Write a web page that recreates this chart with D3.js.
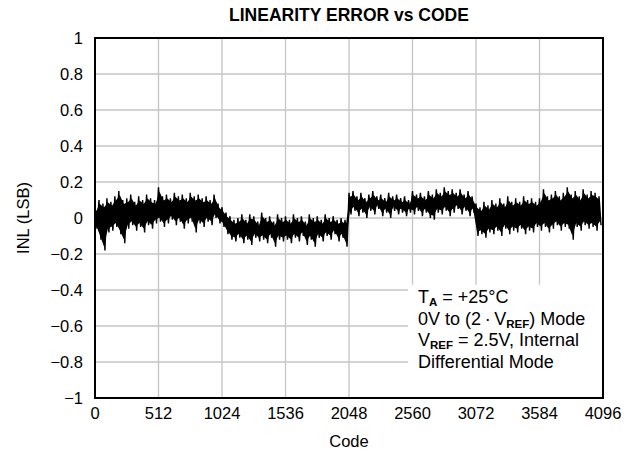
<!DOCTYPE html>
<html><head><meta charset="utf-8">
<script src="https://cdn.jsdelivr.net/npm/d3@7"></script>
<style>body{margin:0;background:#fff}svg{display:block}text{font-family:"Liberation Sans",Arial,sans-serif}</style>
</head><body>
<script>
const title = "LINEARITY ERROR vs CODE";
const xLabel = "Code";
const yLabel = "INL (LSB)";
const xTicks = [0,512,1024,1536,2048,2560,3072,3584,4096];
const yTicks = [-1,-0.8,-0.6,-0.4,-0.2,0,0.2,0.4,0.6,0.8,1];
const codeStep = 16;
// INL values (LSB) sampled every 16 codes, alternating peaks/troughs of the noise band
const inlSeg0 = [0.06,-0.06,0.10,-0.12,0.08,-0.18,0.11,-0.08,0.09,-0.07,0.12,-0.05,0.15,-0.09,0.10,-0.14,0.11,-0.06,0.13,-0.04,0.09,-0.07,0.12,-0.05,0.10,-0.08,0.13,-0.04,0.11,-0.06,0.10,-0.03];
const inlSeg1 = [0.17,-0.02,0.12,-0.05,0.13,-0.03,0.11,-0.01,0.14,-0.04,0.12,-0.02,0.13,-0.06,0.11,-0.03,0.14,-0.02,0.12,-0.08,0.13,-0.03,0.11,-0.05,0.12,-0.02,0.10,-0.04,0.13,0.00,0.08,-0.03];
const inlSeg2 = [0.06,-0.05,0.03,-0.09,0.01,-0.12,-0.01,-0.13,0.00,-0.11,0.02,-0.14,-0.01,-0.12,0.02,-0.15,0.01,-0.11,-0.02,-0.13,0.03,-0.12,0.00,-0.14,0.01,-0.11,-0.02,-0.16,0.02,-0.12,0.00,-0.13];
const inlSeg3 = [0.01,-0.12,-0.01,-0.14,0.02,-0.11,0.00,-0.13,0.01,-0.10,-0.02,-0.15,0.02,-0.12,0.00,-0.16,0.01,-0.11,-0.01,-0.13,0.02,-0.10,0.00,-0.12,0.01,-0.09,-0.01,-0.13,0.00,-0.11,-0.01,-0.16];
const inlSeg4 = [0.14,0.02,0.15,0.04,0.12,0.01,0.14,0.03,0.11,0.00,0.13,0.04,0.15,0.02,0.12,0.05,0.13,0.01,0.11,0.03,0.14,0.00,0.12,0.04,0.13,0.02,0.11,0.03,0.12,0.01,0.10,0.03];
const inlSeg5 = [0.15,0.02,0.13,0.04,0.14,0.01,0.12,0.03,0.15,0.00,0.13,-0.01,0.16,0.03,0.14,0.02,0.17,0.04,0.15,0.01,0.16,0.03,0.14,0.05,0.16,0.02,0.13,0.04,0.15,0.01,0.12,0.03];
const inlSeg6 = [0.08,-0.10,0.06,-0.09,0.09,-0.11,0.07,-0.08,0.10,-0.09,0.08,-0.07,0.11,-0.10,0.08,-0.06,0.12,-0.09,0.09,-0.07,0.11,-0.08,0.09,-0.06,0.12,-0.09,0.10,-0.07,0.11,-0.08,0.09,-0.05];
const inlSeg7 = [0.11,-0.07,0.16,-0.05,0.12,-0.08,0.13,-0.06,0.15,-0.04,0.12,-0.07,0.14,-0.05,0.17,-0.06,0.13,-0.12,0.15,-0.05,0.12,-0.07,0.16,-0.04,0.13,-0.06,0.15,-0.05,0.14,-0.07,0.12,-0.04];
const inlValues = [].concat(inlSeg0,inlSeg1,inlSeg2,inlSeg3,inlSeg4,inlSeg5,inlSeg6,inlSeg7);

const W = 634, H = 451;
const m = {left:95, right:31, top:38, bottom:53};
const svg = d3.select("body").append("svg").attr("width",W).attr("height",H);
const x = d3.scaleLinear().domain([0,4096]).range([m.left, W-m.right]);
const y = d3.scaleLinear().domain([-1,1]).range([H-m.bottom, m.top]);

// grid
svg.append("g").selectAll("line").data(xTicks.slice(1,-1)).join("line")
  .attr("x1",d=>x(d)).attr("x2",d=>x(d)).attr("y1",y(-1)).attr("y2",y(1))
  .attr("stroke","#c4c4c4").attr("stroke-width",1.3);
svg.append("g").selectAll("line").data(yTicks.slice(1,-1)).join("line")
  .attr("x1",x(0)).attr("x2",x(4096)).attr("y1",d=>y(d)).attr("y2",d=>y(d))
  .attr("stroke","#c4c4c4").attr("stroke-width",1.3);

// data: dense core of the noise band (peak/trough pairs) + trace
const data = inlValues.map((v,i)=>({c:i*codeStep, v}));
const pairs = d3.range(0, data.length, 2).map(i=>{
  const a = data[i], b = data[Math.min(i+1,data.length-1)];
  return {c:(a.c+b.c)/2, hi:Math.max(a.v,b.v), lo:Math.min(a.v,b.v)};
});
svg.append("path").datum(pairs)
  .attr("d", d3.area().x(d=>x(d.c)).y0(d=>y(d.lo)-4).y1(d=>y(d.hi)+4))
  .attr("fill","#000");
svg.append("path").datum(data)
  .attr("d", d3.line().x(d=>x(d.c)).y(d=>y(d.v)))
  .attr("fill","none").attr("stroke","#000").attr("stroke-width",1.4);

// annotation box
const bx = x(2525), byTop = y(-0.37);
svg.append("rect").attr("x",bx).attr("y",byTop).attr("width",x(4096)-bx).attr("height",y(-1)-byTop).attr("fill","#fff");

// frame
svg.append("rect").attr("x",x(0)).attr("y",y(1)).attr("width",x(4096)-x(0)).attr("height",y(-1)-y(1))
  .attr("fill","none").attr("stroke","#000").attr("stroke-width",2);

// axes labels
const fmt = d => (d<0 ? "\u2212" : "") + d3.format("")(Math.abs(d));
svg.append("g").selectAll("text").data(yTicks).join("text")
  .attr("x",m.left-12).attr("y",d=>y(d)+6).attr("text-anchor","end")
  .attr("font-size",16.5).text(fmt);
svg.append("g").selectAll("text").data(xTicks).join("text")
  .attr("x",d=>x(d)).attr("y",y(-1)+21).attr("text-anchor","middle")
  .attr("font-size",16.5).text(d=>d);
svg.append("text").attr("x",(x(0)+x(4096))/2).attr("y",447).attr("text-anchor","middle")
  .attr("font-size",16.5).text(xLabel);
svg.append("text").attr("transform",`translate(29,${y(0)}) rotate(-90)`).attr("text-anchor","middle")
  .attr("font-size",16.5).text(yLabel);
svg.append("text").attr("x",(x(0)+x(4096))/2).attr("y",21).attr("text-anchor","middle")
  .attr("font-size",17.5).attr("font-weight","bold").text(title);

// annotation text
const tx = 418;
const lines = [
  [["T",""],["A","sub"],[" = +25°C",""]],
  [["0V to (2\u2009\u00b7\u2009V",""],["REF","sub"],[") Mode",""]],
  [["V",""],["REF","sub"],[" = 2.5V, Internal",""]],
  [["Differential Mode",""]]
];
const baselines = [303, 324.7, 346.4, 368.1];
lines.forEach((parts,i)=>{
  const t = svg.append("text").attr("x",tx).attr("y",baselines[i]).attr("font-size",18);
  parts.forEach(([s,k])=>{
    const ts = t.append("tspan").text(s);
    if(k==="sub") ts.attr("font-size",11.5).attr("font-weight","bold").attr("dy",3);
    else if(t.node().childNodes.length>1) ts.attr("dy",-3);
  });
});
</script>
</body></html>
